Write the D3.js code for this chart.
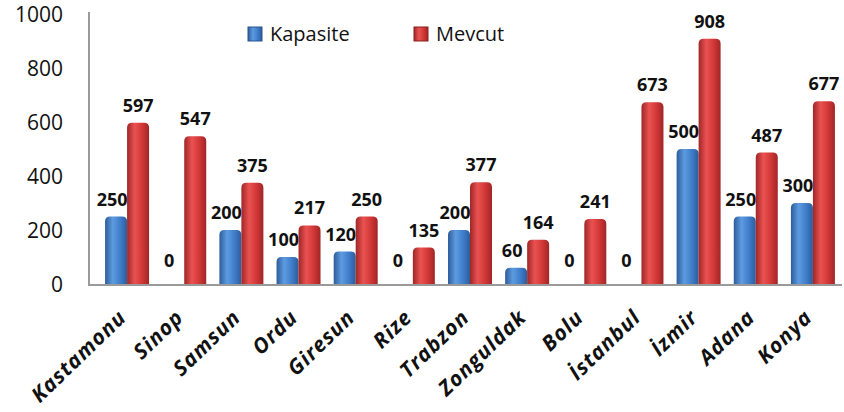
<!DOCTYPE html>
<html>
<head>
	<meta charset="utf-8">
	<title>Kapasite / Mevcut</title>
	<script src="https://cdn.jsdelivr.net/npm/d3@7"></script>
	<style>
		body { margin: 0; background: #fff; }
		text { font-family: "Open Sans", sans-serif; }
	</style>
</head>
<body>
<script>
var cities = ["Kastamonu", "Sinop", "Samsun", "Ordu", "Giresun", "Rize", "Trabzon",
	"Zonguldak", "Bolu", "İstanbul", "İzmir", "Adana", "Konya"];
var kapasite = [250, 0, 200, 100, 120, 0, 200, 60, 0, 0, 500, 250, 300];
var mevcut = [597, 547, 375, 217, 250, 135, 377, 164, 241, 673, 908, 487, 677];
var yTicks = [0, 200, 400, 600, 800, 1000];
var seriesNames = ["Kapasite", "Mevcut"];

var W = 844, H = 412;
var svg = d3.select("body").append("svg")
	.attr("width", W)
	.attr("height", H);

var defs = svg.append("defs");
function cyl(id, dark, mid, light) {
	var g = defs.append("linearGradient").attr("id", id)
		.attr("x1", "0%").attr("x2", "100%").attr("y1", "0%").attr("y2", "0%");
	g.append("stop").attr("offset", "0%").attr("stop-color", dark);
	g.append("stop").attr("offset", "35%").attr("stop-color", light);
	g.append("stop").attr("offset", "70%").attr("stop-color", mid);
	g.append("stop").attr("offset", "100%").attr("stop-color", dark);
}
cyl("gBlue", "#2d5c9a", "#3f7cc9", "#5d9be0");
cyl("gRed", "#a02626", "#d03636", "#ea5252");
var fills = ["url(#gBlue)", "url(#gRed)"];

var y = d3.scaleLinear().domain([0, 1000]).range([284, 14]);
var x = d3.scaleBand().domain(cities).range([98.5, 841.5]).padding(0);
var sub = d3.scaleBand().domain([0, 1]).range([-22, 22]);

// y axis labels
svg.append("g").selectAll("text").data(yTicks).enter().append("text")
	.attr("x", 63)
	.attr("y", function(d) { return y(d); })
	.attr("dy", "0.36em")
	.attr("text-anchor", "end")
	.style("font-size", "21px")
	.attr("fill", "#111")
	.text(function(d) { return d; });

// bars (cylinder look: gradient + rounded top)
var groups = svg.append("g").selectAll("g").data(cities).enter().append("g")
	.attr("transform", function(d) { return "translate(" + (x(d) + x.bandwidth() / 2) + ",0)"; });

var rows = [kapasite, mevcut];
groups.each(function(c, i) {
	var g = d3.select(this);
	[0, 1].forEach(function(s) {
		var v = rows[s][i];
		var x0 = sub(s), x1 = sub(s) + sub.bandwidth(), r = 5;
		if (v > 0) {
			var top = y(v);
			g.append("path")
				.attr("d", "M" + x0 + "," + y(0) +
					"V" + (top + r) +
					"Q" + x0 + "," + top + " " + (x0 + r) + "," + top +
					"H" + (x1 - r) +
					"Q" + x1 + "," + top + " " + x1 + "," + (top + r) +
					"V" + y(0) + "Z")
				.attr("fill", fills[s]);
		}
		g.append("text")
			.attr("x", (x0 + x1) / 2 - (s === 0 ? 4 : 0))
			.attr("y", y(v) - (v === 0 ? 17 : 11))
			.attr("text-anchor", "middle")
			.style("font-size", "18px")
			.style("font-weight", "bold")
			.attr("fill", "#111")
			.text(v);
	});
});

// axis lines
svg.append("line").attr("x1", 89).attr("x2", 89).attr("y1", 12).attr("y2", 285)
	.attr("stroke", "#9a9a9a").attr("stroke-width", 2);
svg.append("line").attr("x1", 88).attr("x2", 842).attr("y1", 285).attr("y2", 285)
	.attr("stroke", "#9a9a9a").attr("stroke-width", 2);

// category labels
svg.append("g").selectAll("text").data(cities).enter().append("text")
	.attr("transform", function(d) {
		return "translate(" + (x(d) + x.bandwidth() / 2 - 10) + ",308) rotate(-44)";
	})
	.attr("dy", "0.72em")
	.attr("text-anchor", "end")
	.style("font-size", "21px")
	.style("letter-spacing", "1px")
	.style("font-weight", "bold")
	.style("font-style", "italic")
	.attr("fill", "#111")
	.text(function(d) { return d; });

// legend
var legX = [248, 414];
var leg = svg.append("g").selectAll("g").data(seriesNames).enter().append("g")
	.attr("transform", function(d, i) { return "translate(" + legX[i] + ",27)"; });
leg.append("rect").attr("width", 14).attr("height", 14)
	.attr("fill", function(d, i) { return fills[i]; })
	.attr("stroke", function(d, i) { return i ? "#8a2020" : "#2a5590"; });
leg.append("text").attr("x", 22).attr("y", 7).attr("dy", "0.36em")
	.style("font-size", "20px")
	.attr("fill", "#111")
	.text(function(d) { return d; });
</script>
</body>
</html>
